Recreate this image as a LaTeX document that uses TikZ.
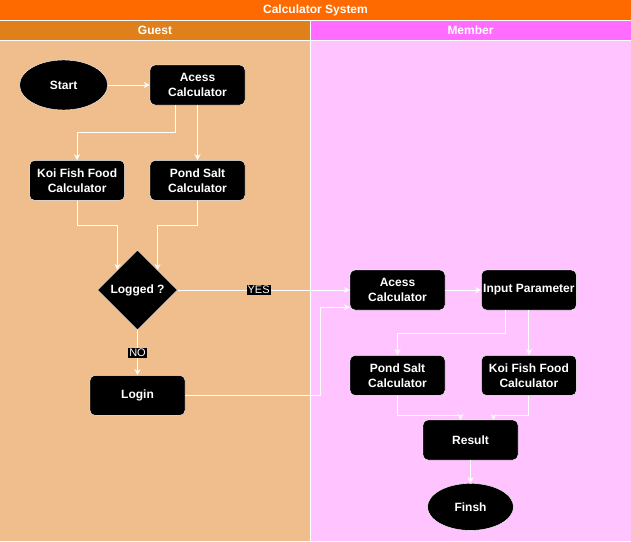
\documentclass[tikz,border=0pt]{standalone}
\usepackage{fontspec}
\setmainfont{Liberation Sans}
\usetikzlibrary{positioning,arrows.meta,calc,shapes.geometric}
\definecolor{titlebar}{RGB}{255,106,0}
\definecolor{guesthead}{RGB}{224,128,26}
\definecolor{memberhead}{RGB}{255,108,255}
\definecolor{guestlane}{RGB}{240,190,140}
\definecolor{memberlane}{RGB}{255,196,255}

\begin{document}
\begin{tikzpicture}[x=1pt, y=-1pt,
  proc/.style={draw=white, fill=black, text=white, rounded corners=5pt,
    minimum width=95pt, minimum height=40pt, inner sep=1pt, align=center,
    font=\bfseries\fontsize{12}{15}\selectfont},
  term/.style={ellipse, draw=white, fill=black, text=white, inner sep=0pt,
    font=\bfseries\fontsize{12}{15}\selectfont},
  decision/.style={diamond, draw=white, fill=black, text=white, inner sep=0pt,
    minimum width=80pt, minimum height=80pt, font=\bfseries\fontsize{12}{15}\selectfont},
  lanetitle/.style={text=white, font=\bfseries\fontsize{12}{14}\selectfont},
  flow/.style={draw=white, line width=1pt, -{Stealth[length=6pt, width=6pt]}},
  answer/.style={fill=black, text=white, inner sep=1pt, font=\fontsize{11}{12}\selectfont}
]
\useasboundingbox (0,0) rectangle (631,541);
% swimlanes
\fill[titlebar] (0,0) rectangle (631,20);
\fill[guesthead] (0,20) rectangle (310,40);
\fill[memberhead] (310,20) rectangle (631,40);
\fill[guestlane] (0,40) rectangle (310,541);
\fill[memberlane] (310,40) rectangle (631,541);
\draw[white, line width=1pt] (0,20) -- (631,20) (0,40) -- (631,40) (310,20) -- (310,541);
\node[lanetitle] (system) at (315.5,10) {Calculator System};
\node[lanetitle] (guest) at (155,30) {Guest};
\node[lanetitle] (member) at (470.5,30) {Member};

% guest lane
\node[proc] (access) at (197.5,85) {Acess\\Calculator};
\node[term, minimum width=88pt, minimum height=50pt, left=42pt of access] (start) {Start};
\node[proc, below=55pt of access] (pondsalt) {Pond Salt\\Calculator};
\node[proc, left=25pt of pondsalt] (koi) {Koi Fish Food\\Calculator};
\node[decision] (logged) at (137.5,290) {Logged ?};
\node[proc, below=45pt of logged] (login) {Login};

% member lane
\node[proc] (access2) at (397.5,290) {Acess\\Calculator};
\node[proc, right=36pt of access2] (input) {Input Parameter};
\node[proc, below=45pt of access2] (pondsalt2) {Pond Salt\\Calculator};
\node[proc, below=45pt of input] (koi2) {Koi Fish Food\\Calculator};
\node[proc] (result) at (470.5,440) {Result};
\node[term, minimum width=86pt, minimum height=47pt, below=23pt of result] (finish) {Finsh};

% connectors
\draw[flow] (start) -- (access);
\draw[flow] ([xshift=-22pt]access.south) -- ++(0,27) -| (koi.north);
\draw[flow] (access) -- (pondsalt);
\draw[flow] (koi.south) -- ++(0,25) -| (logged.north west);
\draw[flow] (pondsalt.south) -- ++(0,25) -| (logged.north east);
\draw[flow] (logged) -- node[answer, pos=0.47] {YES} (access2);
\draw[flow] (logged) -- node[answer] {NO} (login);
\draw[flow] (login.east) -- ++(135,0) |- ([yshift=3pt]access2.south west);
\draw[flow] (access2) -- (input);
\draw[flow] ([xshift=-23pt]input.south) -- ++(0,23) -| (pondsalt2.north);
\draw[flow] (input) -- (koi2);
\draw[flow] (pondsalt2.south) -- ++(0,20) -| ([xshift=-10pt]result.north);
\draw[flow] (koi2.south) -- ++(0,20) -| ([xshift=23pt]result.north);
\draw[flow] (result) -- (finish);
\end{tikzpicture}
\end{document}
